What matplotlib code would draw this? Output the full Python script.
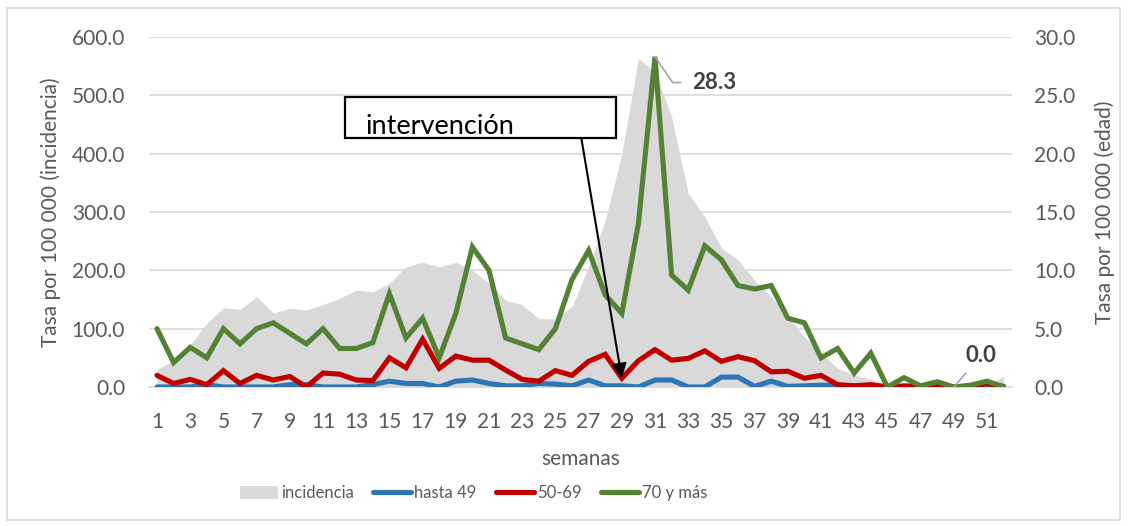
import matplotlib
matplotlib.use("Agg")
import matplotlib.pyplot as plt
from matplotlib.patches import Rectangle
from matplotlib.lines import Line2D
from matplotlib.patches import Patch

plt.rcParams['font.family'] = ['Lato', 'DejaVu Sans']

weeks = list(range(1, 53))

incidencia = [30, 46, 72, 109, 136, 133, 155, 127, 135, 132,
              141, 152, 166, 163, 178, 206, 214, 206, 214, 200,
              178, 149, 141, 117, 117, 138, 206, 286, 400, 563,
              540, 463, 332, 292, 238, 218, 183, 155, 121, 86,
              58, 32, 21, 13, 6, 4, 3, 3, 2, 3,
              4, 18]

hasta_49 = [0.0, 0.0, 0.0, 0.2, 0.0, 0.0, 0.0, 0.0, 0.2, 0.2,
            0.0, 0.0, 0.0, 0.2, 0.5, 0.3, 0.3, 0.0, 0.5, 0.6,
            0.3, 0.1, 0.1, 0.3, 0.25, 0.1, 0.6, 0.1, 0.1, 0.0,
            0.6, 0.6, 0.0, 0.0, 0.85, 0.85, 0.05, 0.5, 0.05, 0.1,
            0.15, 0.15, 0.1, 0.05, 0.0, 0.0, 0.0, 0.0, 0.0, 0.0,
            0.0, 0.0]

r50_69 = [1.0, 0.3, 0.65, 0.2, 1.4, 0.3, 1.0, 0.6, 0.9, 0.0,
          1.2, 1.1, 0.6, 0.55, 2.5, 1.65, 4.1, 1.6, 2.65, 2.3,
          2.3, 1.45, 0.65, 0.5, 1.4, 1.0, 2.2, 2.8, 0.75, 2.25,
          3.2, 2.3, 2.45, 3.1, 2.2, 2.6, 2.25, 1.3, 1.35, 0.75,
          1.0, 0.2, 0.1, 0.2, 0.0, 0.1, 0.05, 0.2, 0.0, 0.05,
          0.3, 0.05]

r70_mas = [5.0, 2.1, 3.4, 2.5, 5.0, 3.7, 5.0, 5.5, 4.6, 3.7,
           5.0, 3.3, 3.3, 3.8, 8.0, 4.2, 5.9, 2.5, 6.3, 12.0,
           10.0, 4.2, 3.7, 3.2, 5.0, 9.2, 11.7, 7.9, 6.3, 14.0,
           28.3, 9.6, 8.3, 12.1, 10.9, 8.7, 8.4, 8.7, 5.9, 5.5,
           2.5, 3.3, 1.2, 2.9, 0.0, 0.8, 0.1, 0.45, 0.0, 0.15,
           0.5, 0.0]

xtick_labels = [str(w) for w in range(1, 53, 2)]

GRAY_TXT = '#595959'
FS = 15

fig = plt.figure(figsize=(11.30, 5.26), dpi=100)
ax = fig.add_axes([148.7 / 1130, 1 - 387 / 526, 863.2 / 1130, 350 / 526])
ax2 = ax.twinx()

ax.fill_between(weeks, incidencia, 0, color='#D9D9D9', lw=0, zorder=1)
ax.set_xlim(0.5, 52.5)
ax.set_ylim(0, 600)
ax.set_yticks(range(0, 601, 100))
ax.set_yticklabels([f"{v:.1f}" for v in range(0, 601, 100)])
ax.set_axisbelow(True)
ax.grid(axis='y', color='#D9D9D9', lw=1.2, zorder=0)
ax.set_xticks(list(range(1, 53, 2)))
ax.set_xticklabels(xtick_labels)

ax2.set_ylim(0, 30)
ax2.set_yticks(range(0, 31, 5))
ax2.set_yticklabels([f"{v:.1f}" for v in range(0, 31, 5)])

lw = 3.7
ax2.plot(weeks, hasta_49, color='#2E75B6', lw=lw, solid_capstyle='round', solid_joinstyle='miter', zorder=3)
ax2.plot(weeks, r50_69, color='#C00000', lw=lw, solid_capstyle='round', solid_joinstyle='miter', zorder=4)
ax2.plot(weeks, r70_mas, color='#548235', lw=lw, solid_capstyle='round', solid_joinstyle='miter', zorder=5)

for a in (ax, ax2):
    for s in a.spines.values():
        s.set_visible(False)
    a.tick_params(length=0, labelsize=FS, labelcolor=GRAY_TXT)
ax.spines['bottom'].set_visible(True)
ax.spines['bottom'].set_color('#D9D9D9')
ax.spines['bottom'].set_linewidth(1.2)
ax.tick_params(axis='y', pad=17)
ax2.tick_params(axis='y', pad=16)
ax.tick_params(axis='x', pad=18)

ax.set_ylabel('Tasa por 100 000 (incidencia)', fontsize=FS, color=GRAY_TXT, labelpad=8)
ax2.set_ylabel('Tasa por 100 000 (edad)', fontsize=FS, color=GRAY_TXT, rotation=90, labelpad=14)
ax.set_xlabel('semanas', fontsize=FS, color=GRAY_TXT, labelpad=12)

# annotation box
ax2.add_patch(Rectangle((0.2274, 0.7106), 0.3139, 0.1188, transform=ax2.transAxes,
                        facecolor='white', edgecolor='black', lw=1.6, zorder=10))
ax2.text(0.2506, 0.722, 'intervención', transform=ax2.transAxes, fontsize=19.5,
         color='black', ha='left', va='baseline', zorder=11)
ax2.annotate('', xy=(29, r50_69[28]), xycoords='data',
             xytext=(0.5012, 0.7106), textcoords='axes fraction',
             arrowprops=dict(arrowstyle='-|>', color='black', lw=1.5, mutation_scale=22,
                             shrinkA=0, shrinkB=0), zorder=12)

# data labels
peak_i = 30
ax2.annotate(f"{r70_mas[peak_i]:.1f}", xy=(weeks[peak_i], r70_mas[peak_i]),
             xytext=(26.4, -18.5), textcoords='offset points', ha='left', va='center',
             fontsize=FS + 1, fontweight='bold', color='#404040',
             arrowprops=dict(arrowstyle='-', color='#A6A6A6', lw=1.2, shrinkA=6, shrinkB=0,
                             connectionstyle='angle,angleA=0,angleB=-55.5,rad=0'), zorder=12)
z_i = 48
ax2.annotate(f"{r70_mas[z_i]:.1f}", xy=(weeks[z_i], r70_mas[z_i]),
             xytext=(19.6, 22.5), textcoords='offset points', ha='center', va='center',
             fontsize=FS + 1, fontweight='bold', color='#404040',
             arrowprops=dict(arrowstyle='-', color='#A6A6A6', lw=1.2, shrinkA=4, shrinkB=0),
             zorder=12)

# legend
handles = [Patch(facecolor='#D9D9D9', edgecolor='none'),
           Line2D([], [], color='#2E75B6', lw=lw, solid_capstyle='round'),
           Line2D([], [], color='#C00000', lw=lw, solid_capstyle='round'),
           Line2D([], [], color='#548235', lw=lw, solid_capstyle='round')]
labels = ['incidencia', 'hasta 49', '50-69', '70 y más']
LFS = 12
leg = fig.legend(handles, labels, loc='center left', bbox_to_anchor=(240 / 1130, 1 - 493 / 526),
                 ncol=4, frameon=False, fontsize=LFS, handlelength=27.4 / LFS, handleheight=0.8,
                 handletextpad=2.2 / LFS, columnspacing=1.15, borderpad=0, borderaxespad=0)
for t in leg.get_texts():
    t.set_color(GRAY_TXT)

# chart border
fig.add_artist(Rectangle((7 / 1130, 1 - 520 / 526), 1113 / 1130, 512 / 526,
                         transform=fig.transFigure, fill=False, edgecolor='#D9D9D9', lw=1.2))

fig.savefig('out.png', dpi=100)
